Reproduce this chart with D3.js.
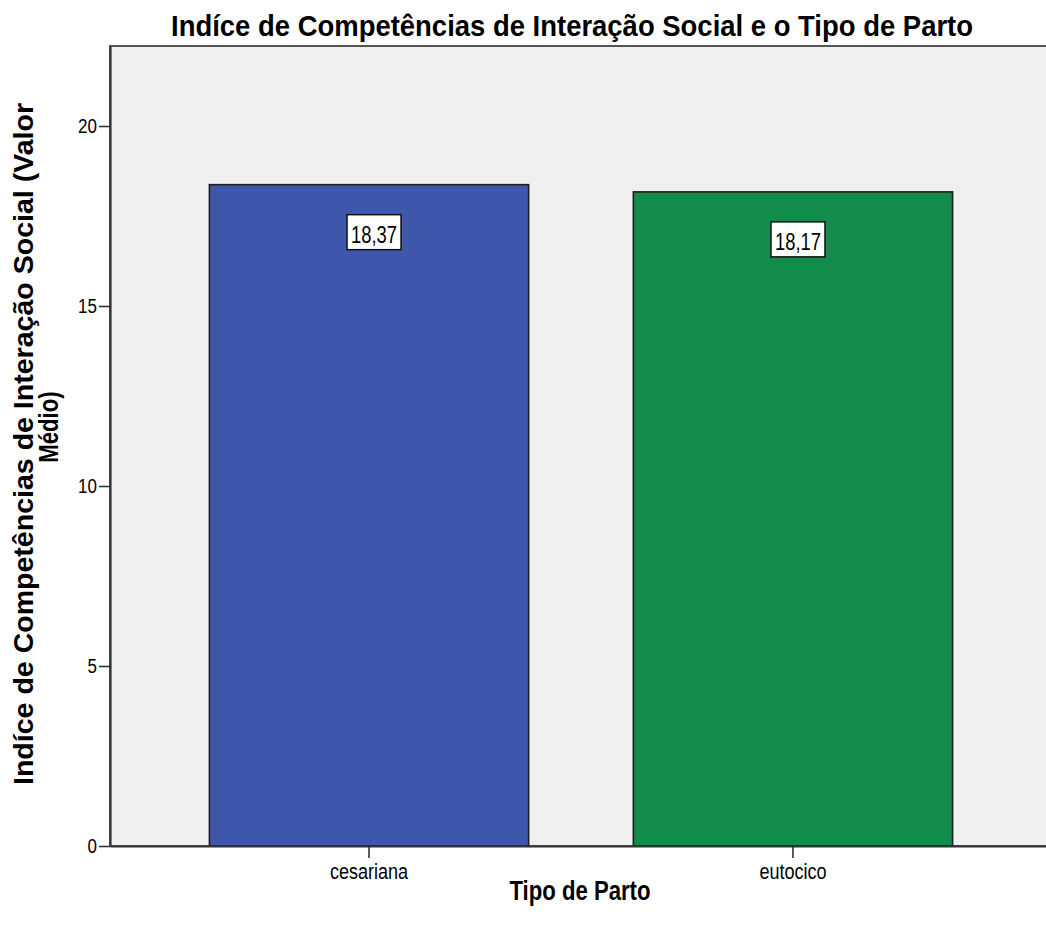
<!DOCTYPE html>
<html>
<head>
<meta charset="utf-8">
<script src="https://cdn.jsdelivr.net/npm/d3@7"></script>
<style>
  body { margin: 0; background: #fff; }
  text { font-family: "Liberation Sans", Arial, sans-serif; fill: #000; }
</style>
</head>
<body>
<svg id="chart" width="1046" height="935"></svg>
<script>
// Mean social-interaction index by delivery type
const categories = ["cesariana", "eutocico"];
const meanValues = [18.37, 18.17];
const valueLabels = ["18,37", "18,17"];
const yTickValues = [0, 5, 10, 15, 20];
const barColors = ["#3e57ab", "#118c4b"];
const chartTitle = "Indíce de Competências de Interação Social e o Tipo de Parto";
const yTitleLines = ["Indíce de Competências de Interação Social (Valor", "Médio)"];
const xTitle = "Tipo de Parto";

const svg = d3.select("#chart");
const box = { left: 110, top: 46, right: 1052, bottom: 846 };

const x = d3.scaleBand()
  .domain(categories)
  .range([box.left, box.right])
  .paddingInner(0.247)
  .paddingOuter(0.2345);

const y = d3.scaleLinear()
  .domain([0, 22.222])
  .range([box.bottom, box.top]);

// condensed lettering: squeeze each text to a fraction of its natural width
function narrow(sel, k) {
  sel.each(function () {
    const w = this.getComputedTextLength();
    d3.select(this).attr("textLength", w * k).attr("lengthAdjust", "spacingAndGlyphs");
  });
}

// plot frame
svg.append("rect")
  .attr("x", box.left).attr("y", box.top)
  .attr("width", box.right - box.left).attr("height", box.bottom - box.top)
  .attr("fill", "#efefef")
  .attr("stroke", "#555").attr("stroke-width", 2);

// bars
const data = categories.map((c, i) => ({ c, v: meanValues[i], label: valueLabels[i], color: barColors[i] }));

svg.append("g").selectAll("rect")
  .data(data)
  .join("rect")
  .attr("x", d => x(d.c))
  .attr("y", d => y(d.v))
  .attr("width", x.bandwidth())
  .attr("height", d => y(0) - y(d.v))
  .attr("fill", d => d.color)
  .attr("stroke", "#1e1e1e")
  .attr("stroke-width", 1.6);

// value labels
const lab = svg.append("g").selectAll("g")
  .data(data)
  .join("g")
  .attr("transform", d => `translate(${x(d.c) + x.bandwidth() / 2 + 5},${y(d.v) + 30})`);

lab.append("rect")
  .attr("x", -27).attr("y", 0)
  .attr("width", 54).attr("height", 35)
  .attr("fill", "#fff")
  .attr("stroke", "#111").attr("stroke-width", 1.5);

lab.append("text")
  .attr("x", 0).attr("y", 28)
  .attr("text-anchor", "middle")
  .style("font-size", "23px")
  .text(d => d.label)
  .call(narrow, 0.8);

// y axis
const yAxis = svg.append("g")
  .attr("transform", `translate(${box.left},0)`)
  .call(d3.axisLeft(y).tickValues(yTickValues).tickSize(11).tickSizeOuter(0).tickPadding(2));
yAxis.select(".domain").attr("stroke", "#333").attr("stroke-width", 2.2);
yAxis.selectAll(".tick line").attr("stroke", "#333").attr("stroke-width", 1.6);
yAxis.selectAll(".tick text")
  .attr("fill", "#000")
  .style("font-size", "20px")
  .style("font-family", "'Liberation Sans', Arial, sans-serif")
  .call(narrow, 0.85);

// x axis
const xAxis = svg.append("g")
  .attr("transform", `translate(0,${box.bottom})`)
  .call(d3.axisBottom(x).tickSize(12).tickSizeOuter(0).tickPadding(5));
xAxis.select(".domain").attr("stroke", "#333").attr("stroke-width", 2.2);
xAxis.selectAll(".tick line").attr("stroke", "#333").attr("stroke-width", 1.6);
xAxis.selectAll(".tick text")
  .attr("fill", "#000")
  .style("font-size", "22px")
  .style("font-family", "'Liberation Sans', Arial, sans-serif")
  .call(narrow, 0.82);

// chart title
svg.append("text")
  .attr("x", 572).attr("y", 36)
  .attr("text-anchor", "middle")
  .style("font-size", "30px").style("font-weight", "bold")
  .attr("textLength", 802).attr("lengthAdjust", "spacingAndGlyphs")
  .text(chartTitle);

// y axis title (two lines)
svg.append("text")
  .attr("transform", "translate(33,444) rotate(-90)")
  .attr("text-anchor", "middle")
  .style("font-size", "27px").style("font-weight", "bold")
  .attr("textLength", 682).attr("lengthAdjust", "spacingAndGlyphs")
  .text(yTitleLines[0]);

svg.append("text")
  .attr("transform", "translate(58,427) rotate(-90)")
  .attr("text-anchor", "middle")
  .style("font-size", "27px").style("font-weight", "bold")
  .text(yTitleLines[1])
  .call(narrow, 0.82);

// x axis title
svg.append("text")
  .attr("x", 580).attr("y", 900)
  .attr("text-anchor", "middle")
  .style("font-size", "27px").style("font-weight", "bold")
  .text(xTitle)
  .call(narrow, 0.82);
</script>
</body>
</html>
